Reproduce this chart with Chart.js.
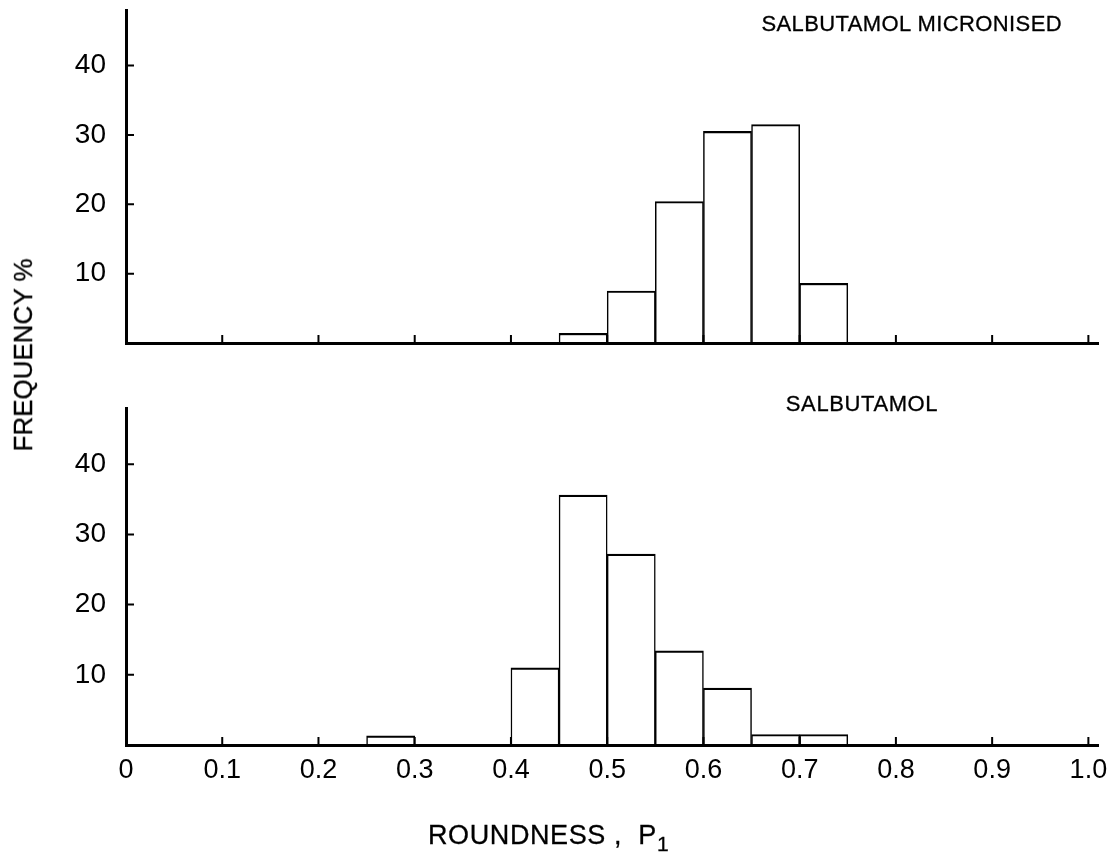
<!DOCTYPE html>
<html>
<head>
<meta charset="utf-8">
<script src="https://cdn.jsdelivr.net/npm/chart.js@4"></script>
<style>
body { margin:0; background:#fff; width:1117px; height:862px; position:relative; overflow:hidden;
       font-family:"Liberation Sans", Arial, sans-serif; color:#000; }
canvas { position:absolute; left:0; }
#topChart { top:0; }
#bottomChart { top:380px; }
.lbl { position:absolute; white-space:nowrap; line-height:1; -webkit-text-stroke:0.3px #000; }
#titleTop { right:55px; top:13px; font-size:22px; letter-spacing:0.4px; }
#titleBottom { left:862px; top:393px; font-size:22px; letter-spacing:0.6px; transform:translateX(-50%); }
#yTitle { left:23px; top:355px; font-size:26px; transform:translate(-50%,-50%) rotate(-90deg); }
#xTitle { left:428px; top:822px; font-size:27px; letter-spacing:0.6px; }
#xTitle sub { font-size:21px; vertical-align:-7px; line-height:0; }
</style>
</head>
<body>
<canvas id="topChart" width="1117" height="370"></canvas>
<canvas id="bottomChart" width="1117" height="482"></canvas>
<div class="lbl" id="titleTop">SALBUTAMOL MICRONISED</div>
<div class="lbl" id="titleBottom">SALBUTAMOL</div>
<div class="lbl" id="yTitle">FREQUENCY %</div>
<div class="lbl" id="xTitle">ROUNDNESS ,&nbsp; P<sub>1</sub></div>
<script>
// bins are 0.05 wide, given by their lower edge
const binWidth = 0.05

const microStarts = [0.45, 0.50, 0.55, 0.60, 0.65, 0.70]
const microValues = [1.4, 7.5, 20.4, 30.5, 31.5, 8.6]

const plainStarts = [0.25, 0.40, 0.45, 0.50, 0.55, 0.60, 0.65, 0.70]
const plainValues = [1.3, 11.0, 35.6, 27.2, 13.4, 8.1, 1.5, 1.5]

const xTickValues = [0, 0.1, 0.2, 0.3, 0.4, 0.5, 0.6, 0.7, 0.8, 0.9, 1.0]
const xTickLabels = ['0', '0.1', '0.2', '0.3', '0.4', '0.5', '0.6', '0.7', '0.8', '0.9', '1.0']
const yTickValues = [10, 20, 30, 40]
const yTickLabels = ['10', '20', '30', '40']

const xMax = 1.01
const yMax = 48
const fam = '"Liberation Sans", Arial, sans-serif'

Chart.defaults.font.family = fam
Chart.defaults.color = '#000'

// tick marks of the original point inward
const innerTicks = {
    id: 'innerTicks',
    afterDatasetsDraw(chart) {
        const ctx = chart.ctx
        const x = chart.scales.x
        const y = chart.scales.y
        const area = chart.chartArea
        ctx.save()
        ctx.strokeStyle = '#000'
        ctx.lineWidth = 2
        ctx.beginPath()
        xTickValues.forEach(v => {
            if (v === 0) return
            const px = x.getPixelForValue(v)
            ctx.moveTo(px, area.bottom)
            ctx.lineTo(px, area.bottom - 8)
        })
        yTickValues.forEach(v => {
            const py = y.getPixelForValue(v)
            ctx.moveTo(area.left, py)
            ctx.lineTo(area.left + 8, py)
        })
        ctx.stroke()
        ctx.restore()
    }
}

function makeHist(id, starts, values, showXLabels, padTop, xAxisHeight) {
    const points = starts.map((s, i) => ({ x: s + binWidth / 2, y: values[i] }))
    return new Chart(document.getElementById(id), {
        type: 'bar',
        data: {
            datasets: [{
                data: points,
                backgroundColor: '#fff',
                borderColor: '#000',
                borderWidth: { top: 2.2, left: 1.5, right: 1.5, bottom: 0 },
                borderSkipped: false,
                barPercentage: 1,
                categoryPercentage: 1
            }]
        },
        options: {
            responsive: false,
            animation: false,
            devicePixelRatio: 1,
            layout: { padding: { top: padTop, right: 19, left: 0, bottom: 0 } },
            plugins: { legend: { display: false }, tooltip: { enabled: false } },
            scales: {
                x: {
                    type: 'linear',
                    min: 0,
                    max: xMax,
                    offset: false,
                    grid: { display: false, drawTicks: false },
                    border: { display: true, color: '#000', width: 3, z: 1 },
                    afterBuildTicks: s => { s.ticks = xTickValues.map(v => ({ value: v })) },
                    ticks: {
                        display: showXLabels,
                        color: '#000',
                        padding: 9,
                        maxRotation: 0,
                        autoSkip: false,
                        font: { family: fam, size: 27 },
                        callback: (v, i) => xTickLabels[i]
                    },
                    afterFit: s => {
                        s.height = xAxisHeight
                        s.paddingLeft = 0
                        s.paddingRight = 0
                    }
                },
                y: {
                    min: 0,
                    max: yMax,
                    grid: { display: false, drawTicks: false },
                    border: { display: true, color: '#000', width: 3, z: 1 },
                    afterBuildTicks: s => { s.ticks = yTickValues.map(v => ({ value: v })) },
                    ticks: {
                        color: '#000',
                        padding: 20,
                        font: { family: fam, size: 28 },
                        callback: (v, i) => yTickLabels[i]
                    },
                    afterFit: s => {
                        s.width = 126
                        s.paddingTop = 0
                        s.paddingBottom = 0
                    }
                }
            }
        },
        plugins: [innerTicks]
    })
}

makeHist('topChart', microStarts, microValues, false, 10, 27)
makeHist('bottomChart', plainStarts, plainValues, true, 28, 117)
</script>
</body>
</html>
